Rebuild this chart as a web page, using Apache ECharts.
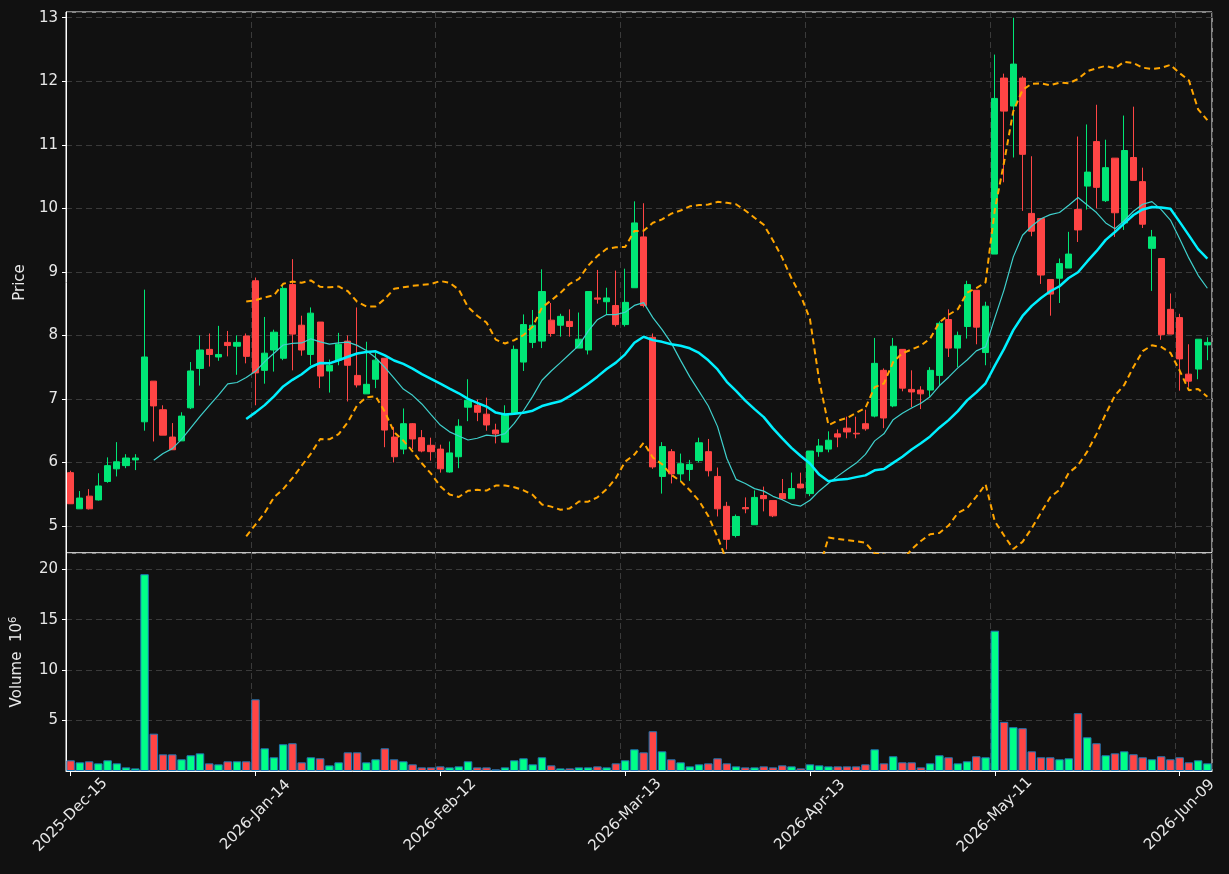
<!DOCTYPE html>
<html><head><meta charset="utf-8">
<script src="https://cdn.jsdelivr.net/npm/echarts@6/dist/echarts.min.js"></script>
<style>html,body{margin:0;padding:0;background:#111111;}#c{width:1229px;height:874px;}</style>
</head><body><div id="c"></div>
<script>
const tickLabels = ['2025-Dec-15','2026-Jan-14','2026-Feb-12','2026-Mar-13','2026-Apr-13','2026-May-11','2026-Jun-09'];
const opens = [5.84,5.27,5.47,5.41,5.70,5.90,5.95,6.04,6.64,7.28,6.83,6.40,6.34,6.86,7.48,7.78,7.66,7.89,7.83,7.99,
8.86,7.45,7.77,7.64,8.80,8.16,7.70,8.21,7.44,7.61,7.91,7.37,7.08,7.31,7.64,6.40,6.21,6.61,6.39,6.27,
6.21,5.85,6.09,6.87,6.90,6.76,6.51,6.32,6.78,7.58,7.89,7.91,8.24,8.16,8.22,7.80,7.77,8.59,8.53,8.47,
8.17,8.75,9.55,7.97,5.78,6.17,5.82,5.89,6.03,6.17,5.78,5.31,4.85,5.29,5.02,5.48,5.40,5.51,5.43,5.66,
5.51,6.17,6.21,6.45,6.54,6.46,6.61,6.73,7.45,6.89,7.78,7.15,7.14,7.14,7.37,8.25,7.80,8.14,8.71,7.73,
9.28,12.05,11.61,12.05,9.92,9.84,8.88,8.90,9.06,9.98,10.35,11.05,10.12,10.79,9.77,10.80,10.42,9.37,9.21,8.41,
8.28,7.39,7.47,7.85];
const closes = [5.35,5.44,5.27,5.63,5.95,6.01,6.07,6.07,7.66,6.89,6.43,6.20,6.73,7.44,7.77,7.70,7.70,7.84,7.89,7.67,
7.41,7.72,8.05,8.74,8.02,7.77,8.35,7.36,7.53,7.86,7.53,7.22,7.23,7.61,6.51,6.09,6.61,6.37,6.18,6.17,
5.90,6.15,6.57,6.98,6.79,6.59,6.45,6.76,7.78,8.17,8.16,8.69,8.03,8.30,8.14,7.94,8.69,8.57,8.59,8.17,
8.52,9.77,8.47,5.93,6.25,5.82,5.98,5.97,6.31,5.87,5.27,4.79,5.15,5.27,5.45,5.43,5.16,5.43,5.59,5.60,
6.18,6.26,6.35,6.40,6.48,6.45,6.53,7.56,6.70,7.83,7.17,7.11,7.08,7.45,8.19,7.80,8.00,8.80,8.13,8.46,
11.73,11.53,12.27,10.85,9.64,8.95,8.65,9.13,9.28,9.66,10.57,10.33,10.64,9.93,10.91,10.44,9.75,9.55,8.01,8.02,
7.63,7.28,7.94,7.89];
const highs = [5.87,5.55,5.58,5.83,6.08,6.32,6.13,6.13,8.72,7.28,6.90,6.62,6.79,7.58,8.00,8.03,8.15,8.07,8.00,8.03,
8.91,8.29,8.09,8.81,9.20,8.31,8.44,8.21,7.62,8.04,8.00,8.44,7.90,7.73,7.64,6.56,6.85,6.62,6.51,6.39,
6.28,6.33,6.68,7.31,6.99,7.02,6.61,6.90,7.84,8.33,8.40,9.04,8.51,8.34,8.41,8.36,8.69,9.03,8.75,9.02,
9.05,10.11,10.08,8.03,6.32,6.21,6.14,6.04,6.39,6.37,5.92,5.38,5.18,5.45,5.56,5.62,5.40,5.74,5.84,5.84,
6.18,6.37,6.49,6.52,6.72,6.72,6.83,7.96,7.48,7.96,7.78,7.45,7.20,7.50,8.22,8.41,8.06,8.86,8.71,8.53,
12.42,12.12,13.00,12.08,10.82,9.84,8.88,9.21,9.63,11.13,11.32,11.63,11.08,10.79,11.46,11.60,10.64,9.66,9.21,8.66,
8.34,7.86,7.94,7.97];
const lows = [5.35,5.27,5.26,5.40,5.68,5.78,5.91,5.88,6.50,6.33,6.43,6.20,6.34,6.84,7.21,7.51,7.60,7.67,7.38,7.56,
6.90,7.24,7.43,7.61,7.45,7.68,7.53,7.17,7.10,7.53,6.96,7.18,7.08,7.17,6.24,6.00,6.13,6.21,6.16,6.03,
5.84,5.84,5.91,6.65,6.65,6.50,6.30,6.32,6.78,7.44,7.80,7.80,7.98,7.98,7.98,7.80,7.70,8.50,8.33,8.14,
8.14,8.75,8.44,5.90,5.51,5.67,5.70,5.71,6.00,5.78,5.15,4.63,4.82,5.20,5.02,5.23,5.14,5.41,5.43,5.59,
5.47,6.09,6.16,6.24,6.38,6.38,6.50,6.71,6.54,6.87,7.12,6.87,6.84,7.03,7.22,7.66,7.50,7.95,7.86,7.53,
9.28,10.41,10.80,9.96,9.56,8.81,8.31,8.51,9.06,9.47,9.98,10.00,10.10,9.55,9.66,10.44,9.69,8.70,7.93,8.02,
7.13,7.19,7.31,7.61];
const volumes = [1.06,0.86,0.96,0.76,1.06,0.76,0.36,0.26,19.5,3.7,1.65,1.65,1.16,1.56,1.75,0.76,0.66,0.96,0.96,0.96,
7.1,2.25,1.36,2.65,2.75,0.86,1.36,1.26,0.56,0.86,1.85,1.85,0.86,1.16,2.25,1.16,0.96,0.66,0.36,0.36,
0.46,0.36,0.46,0.96,0.36,0.36,0.17,0.36,1.06,1.26,0.66,1.36,0.56,0.26,0.26,0.36,0.36,0.46,0.36,0.76,
1.06,2.15,1.85,3.94,1.95,1.16,0.86,0.46,0.66,0.76,1.26,0.76,0.46,0.36,0.36,0.46,0.36,0.56,0.46,0.26,
0.66,0.56,0.46,0.46,0.46,0.46,0.66,2.15,0.76,1.46,0.86,0.86,0.36,0.76,1.56,1.36,0.76,0.96,1.46,1.36,
13.9,4.87,4.34,4.24,1.95,1.36,1.36,1.16,1.26,5.73,3.34,2.75,1.56,1.75,1.95,1.66,1.36,1.16,1.46,1.16,
1.36,0.86,1.06,0.76];

const N = closes.length;
const cats = closes.map((_, i) => String(i));
const labelAt = {};
tickLabels.forEach((t, k) => { labelAt[k * 20] = t; });

function sma(n) {
  return closes.map((_, i) => {
    if (i < n - 1) return '-';
    let s = 0; for (let j = i - n + 1; j <= i; j++) s += closes[j];
    return +(s / n).toFixed(4);
  });
}
function band(k) {
  return closes.map((_, i) => {
    if (i < 19) return '-';
    let s = 0; for (let j = i - 19; j <= i; j++) s += closes[j];
    const m = s / 20; let v = 0;
    for (let j = i - 19; j <= i; j++) v += (closes[j] - m) ** 2;
    return +(m + k * 2 * Math.sqrt(v / 20)).toFixed(4);
  });
}
const GREEN = '#00e676', RED = '#ff4545';
const candle = closes.map((c, i) => [opens[i], c, lows[i], highs[i]]);
const vol = volumes.map((v, i) => ({value: v, itemStyle: {color: closes[i] >= opens[i] ? '#00ff88' : '#ff4545'}}));

const font = 'DejaVu Sans';
const labelStyle = {color: '#e8e8e8', fontSize: 15, fontFamily: font};
const splitLS = {color: '#3a3a3a', type: [6, 4], width: 1};
const every20 = (i) => i % 20 === 0;
const chart = echarts.init(document.getElementById('c'));
chart.setOption({
  backgroundColor: '#111111',
  animation: false,
  grid: [
    {left: 66, right: 17, top: 12, height: 541, show: true, borderColor: '#ffffff', borderWidth: 1, backgroundColor: '#111111'},
    {left: 66, right: 17, top: 553, height: 218, show: true, borderColor: '#ffffff', borderWidth: 1, backgroundColor: '#111111'}
  ],
  xAxis: [
    {type: 'category', data: cats, gridIndex: 0, boundaryGap: true,
     axisLine: {show: false}, axisTick: {show: false, alignWithLabel: true, interval: every20}, axisLabel: {show: false, interval: every20},
     splitLine: {show: true, interval: every20, lineStyle: splitLS}},
    {type: 'category', data: cats, gridIndex: 1, boundaryGap: true,
     axisLine: {show: true, lineStyle: {color: '#ffffff'}},
     axisTick: {show: true, alignWithLabel: true, interval: every20, length: 5, lineStyle: {color: '#fff'}},
     axisLabel: Object.assign({interval: every20, rotate: 45, margin: 44, align: 'center', verticalAlign: 'middle', formatter: (v) => labelAt[+v] || ''}, labelStyle),
     splitLine: {show: true, interval: every20, lineStyle: splitLS}}
  ],
  yAxis: [
    {type: 'value', gridIndex: 0, min: 4.575, max: 13.09, splitNumber: 8,
     name: 'Price', nameLocation: 'middle', nameGap: 36, nameRotate: 90, nameTextStyle: labelStyle,
     axisLine: {show: true, lineStyle: {color: '#fff'}}, axisTick: {show: true, length: 4, lineStyle: {color: '#fff'}},
     axisLabel: Object.assign({showMinLabel: false, showMaxLabel: false}, labelStyle),
     splitLine: {show: true, lineStyle: splitLS}},
    {type: 'value', gridIndex: 1, min: 0, max: 21.6, interval: 5,
     name: '{a|Volume  10}{s|6}', nameLocation: 'middle', nameGap: 40, nameRotate: 90,
     nameTextStyle: {rich: {a: labelStyle, s: {color: '#e8e8e8', fontSize: 10, fontFamily: font, verticalAlign: 'top', padding: [0, 0, 8, 0]}}},
     axisLine: {show: true, lineStyle: {color: '#fff'}}, axisTick: {show: true, length: 4, lineStyle: {color: '#fff'}},
     axisLabel: Object.assign({showMinLabel: false, showMaxLabel: false}, labelStyle),
     splitLine: {show: true, lineStyle: splitLS}}
  ],
  series: [
    {type: 'candlestick', xAxisIndex: 0, yAxisIndex: 0, data: candle, barWidth: '72%',
     itemStyle: {color: GREEN, color0: RED, borderColor: GREEN, borderColor0: RED, borderWidth: 1}},
    {type: 'line', data: sma(10), xAxisIndex: 0, yAxisIndex: 0, showSymbol: false, symbol: 'none',
     lineStyle: {color: '#3fd0cc', width: 1.2}},
    {type: 'line', data: sma(20), xAxisIndex: 0, yAxisIndex: 0, showSymbol: false, symbol: 'none',
     lineStyle: {color: '#00f0ff', width: 2.5}},
    {type: 'line', data: band(1), xAxisIndex: 0, yAxisIndex: 0, showSymbol: false, symbol: 'none',
     lineStyle: {color: '#ffa500', width: 2, type: [6, 4]}},
    {type: 'line', data: band(-1), xAxisIndex: 0, yAxisIndex: 0, showSymbol: false, symbol: 'none',
     lineStyle: {color: '#ffa500', width: 2, type: [6, 4]}},
    {type: 'bar', data: vol, xAxisIndex: 1, yAxisIndex: 1, barWidth: '92%',
     itemStyle: {borderColor: '#1f77b4', borderWidth: 1}}
  ]
});
</script></body></html>
